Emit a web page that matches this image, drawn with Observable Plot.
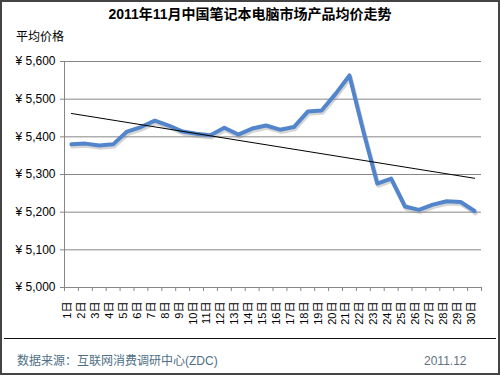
<!DOCTYPE html>
<html>
<head>
<meta charset="utf-8">
<script src="https://cdn.jsdelivr.net/npm/d3@7"></script>
<script src="https://cdn.jsdelivr.net/npm/@observablehq/plot@0.6"></script>
<style>
  html, body { margin: 0; padding: 0; background: #fff; }
  #wrap { position: relative; width: 500px; height: 375px; overflow: hidden; background: #fff;
          font-family: "Liberation Sans", Arial, "Noto Sans CJK SC", sans-serif; }
  #border { position: absolute; left: 0; top: 0; width: 500px; height: 375px; box-sizing: border-box;
            border: 2px solid #444; pointer-events: none; }
  #title { position: absolute; top: 5px; left: 0; width: 500px; text-align: center; font-size: 14px;
           font-weight: bold; color: #000; line-height: 18px; }
  #ylab { position: absolute; top: 29px; left: 16px; font-size: 12px; color: #000; line-height: 16px; }
  #chart { position: absolute; top: 0; left: 0; }
  #sep { position: absolute; top: 338px; left: 4px; width: 492px; height: 0; border-top: 1px solid #111; }
  #source { position: absolute; top: 353px; left: 17px; font-size: 12px; color: #4e6f86; line-height: 16px; }
  #date { position: absolute; top: 353px; left: 424px; font-size: 12px; color: #5f7383; line-height: 16px; }
</style>
</head>
<body>
<div id="wrap">
  <div id="title">2011年11月中国笔记本电脑市场产品均价走势</div>
  <div id="ylab">平均价格</div>
  <div id="chart"></div>
  <div id="sep"></div>
  <div id="source">数据来源：互联网消费调研中心(ZDC)</div>
  <div id="date">2011.12</div>
  <div id="border"></div>
</div>
<script>
// Data
const days = [1,2,3,4,5,6,7,8,9,10,11,12,13,14,15,16,17,18,19,20,21,22,23,24,25,26,27,28,29,30];
const prices = [5380,5382,5377,5380,5414,5426,5443,5430,5414,5408,5404,5424,5406,5422,5430,
                5419,5426,5467,5470,5514,5563,5415,5276,5289,5215,5206,5220,5229,5227,5203];
const yTicks = [5000,5100,5200,5300,5400,5500,5600];
const daySuffix = "日";

const data = days.map((d, i) => ({day: d, price: prices[i]}));
const xDomain = [d3.min(days) - 0.5, d3.max(days) + 0.5];
const boundaries = d3.range(xDomain[0], xDomain[1] + 0.01, 1);
const grid = "#868686";

const chart = Plot.plot({
  width: 500,
  height: 335,
  marginTop: 61,
  marginBottom: 48,
  marginLeft: 64,
  marginRight: 19,
  style: {fontFamily: "'Liberation Sans', Arial, 'Noto Sans CJK SC', sans-serif", color: "#000", background: "transparent"},
  x: {type: "linear", domain: xDomain, axis: null},
  y: {domain: [yTicks[0], yTicks[yTicks.length - 1]]},
  marks: [
    Plot.ruleY(yTicks, {stroke: grid, strokeWidth: 1}),
    Plot.ruleX([xDomain[0]], {stroke: grid, strokeWidth: 1}),
    Plot.axisY({ticks: yTicks, tickFormat: d => "¥ " + d3.format(",")(d), tickSize: 4, tickPadding: 5,
                stroke: grid, fontSize: 12, label: null}),
    Plot.axisX({ticks: boundaries, tickFormat: () => "", tickSize: 4, stroke: grid, label: null}),
    Plot.text(days, {x: d => d, frameAnchor: "bottom", dy: 14, rotate: -90, textAnchor: "end",
                     text: d => d + daySuffix, fontSize: 11, fill: "#000"}),
    Plot.lineY(data, {x: "day", y: "price", stroke: "#888", strokeOpacity: 0.35, strokeWidth: 4.5, dx: 1, dy: 2,
                      strokeLinejoin: "round"}),
    Plot.lineY(data, {x: "day", y: "price", stroke: "#5285cb", strokeWidth: 4, strokeLinejoin: "round"}),
    Plot.linearRegressionY(data, {x: "day", y: "price", stroke: "#000", strokeWidth: 1, ci: 0})
  ]
});
document.getElementById("chart").appendChild(chart);
</script>
</body>
</html>
